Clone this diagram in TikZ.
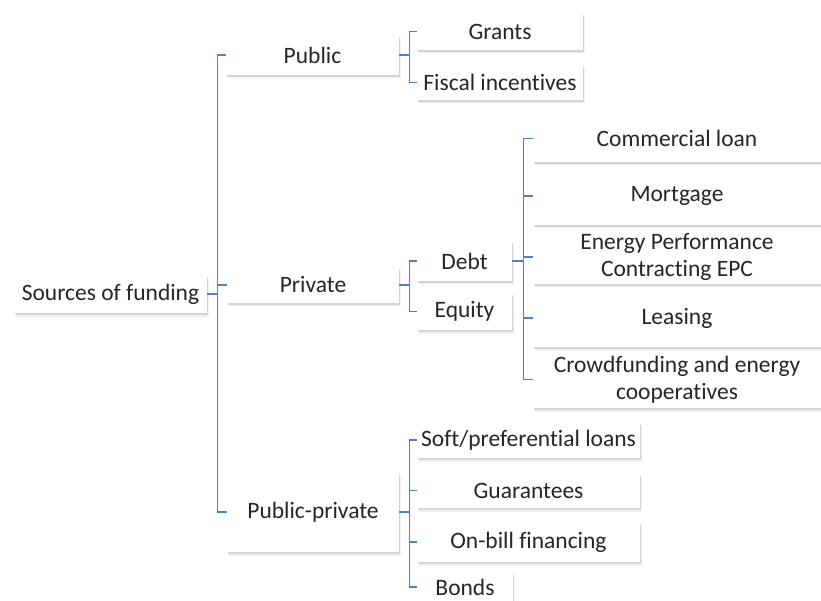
\documentclass[tikz,border=0pt]{standalone}
\usepackage{fontspec}
\setmainfont{Carlito}[Ligatures=NoCommon]
\usetikzlibrary{shadows}
\definecolor{linkblue}{HTML}{4F81BD}

\begin{document}
\begin{tikzpicture}[x=1pt, y=-1pt,
  box/.style={fill=white, inner sep=0pt, align=center, text=black!85,
    font=\fontsize{23.5}{27}\selectfont,
    drop shadow={shadow xshift=1.8pt, shadow yshift=-3.5pt, opacity=0.12},
    drop shadow={shadow xshift=1pt, shadow yshift=-2pt, opacity=0.25}},
  link/.style={draw=linkblue, line width=1.2pt}]
  \clip (0,0) rectangle (821,601);
  \node[box, minimum width=193pt, minimum height=38pt] (src) at (110.5,294) {Sources of funding};

  \node[box, minimum width=173pt, minimum height=40pt] (pub) at (312.5,55) {Public};
  \node[box, minimum width=172pt, minimum height=36pt] (priv) at (313,285) {Private};
  \node[box, minimum width=172pt, minimum height=80pt] (pubpriv) at (313,512) {Public-private};

  \node[box, minimum width=166pt, minimum height=37pt] (grants) at (500,31.5) {Grants};
  \node[box, minimum width=166pt, minimum height=35pt] (fiscal) at (500,82.5) {Fiscal incentives};

  \node[box, minimum width=95pt, minimum height=40pt] (debt) at (464.5,261) {Debt};
  \node[box, minimum width=95pt, minimum height=37pt] (equity) at (464.5,311.5) {Equity};

  \node[box, minimum width=288pt, minimum height=47pt] (loan) at (677,138.5) {Commercial loan};
  \node[box, minimum width=288pt, minimum height=58pt] (mortgage) at (677,196) {Mortgage};
  \node[box, minimum width=288pt, minimum height=54pt] (epc) at (677,257) {Energy Performance\\Contracting EPC};
  \node[box, minimum width=288pt, minimum height=58pt] (leasing) at (677,318) {Leasing};
  \node[box, minimum width=288pt, minimum height=57pt] (crowd) at (677,379.5) {Crowdfunding and energy\\cooperatives};

  \node[box, minimum width=223pt, minimum height=36pt] (soft) at (528.5,440) {Soft/preferential loans};
  \node[box, minimum width=223pt, minimum height=35pt] (guarantees) at (528.5,490.5) {Guarantees};
  \node[box, minimum width=223pt, minimum height=40pt] (onbill) at (528.5,542) {On-bill financing};
  \node[box, minimum width=96pt, minimum height=30pt] (bonds) at (465,587) {Bonds};

  \foreach \c in {pub,priv,pubpriv}
    \draw[link] (src.east) -- ++(10,0) |- (\c.west);
  \foreach \c in {grants,fiscal}
    \draw[link] (pub.east) -- ++(10,0) |- (\c.west);
  \foreach \c in {debt,equity}
    \draw[link] (priv.east) -- ++(10,0) |- (\c.west);
  \foreach \c in {loan,mortgage,epc,leasing,crowd}
    \draw[link] (debt.east) -- ++(11,0) |- (\c.west);
  \foreach \c in {soft,guarantees,onbill,bonds}
    \draw[link] (pubpriv.east) -- ++(10,0) |- (\c.west);
\end{tikzpicture}
\end{document}
